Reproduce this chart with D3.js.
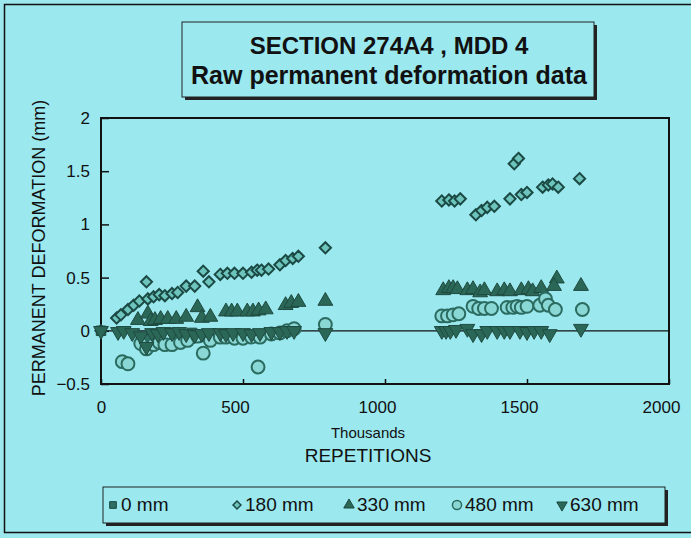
<!DOCTYPE html>
<html><head><meta charset="utf-8">
<script src="https://cdn.jsdelivr.net/npm/d3@7"></script>
<style>html,body{margin:0;padding:0;background:#9ce8ee;}svg{display:block;}</style>
</head><body>
<svg id="chart" width="691" height="538"></svg>
<script>
const titleLines = ["SECTION 274A4 , MDD 4", "Raw permanent deformation data"];
const xTicks = [0, 500, 1000, 1500, 2000];
const yTicks = [-0.5, 0, 0.5, 1, 1.5, 2];
const seriesNames = ["0 mm", "180 mm", "330 mm", "480 mm", "630 mm"];

const s0mm = [[0,0],[140,-0.1],[165,-0.08],[200,-0.05],[260,-0.04],[320,-0.02]];
const s180mm = [[0,0],[55,0.12],[70,0.15],[95,0.2],[115,0.24],[135,0.28],[160,0.46],[165,0.3],[185,0.32],[205,0.34],[225,0.33],[250,0.35],[270,0.36],[300,0.42],[330,0.42],[360,0.56],[380,0.46],[420,0.53],[445,0.54],[470,0.54],[500,0.54],[530,0.55],[550,0.57],[565,0.57],[590,0.58],[630,0.62],[650,0.66],[675,0.68],[695,0.7],[790,0.78],
  [1200,1.22],[1225,1.23],[1245,1.22],[1265,1.24],[1320,1.09],[1340,1.13],[1360,1.16],[1385,1.17],[1440,1.24],[1455,1.57],[1470,1.62],[1480,1.28],[1500,1.3],[1555,1.35],[1575,1.37],[1590,1.38],[1610,1.35],[1685,1.43]];
const s330mm = [[130,0.1],[165,0.16],[175,0.09],[190,0.1],[210,0.11],[235,0.11],[265,0.11],[300,0.13],[340,0.22],[355,0.12],[385,0.13],[440,0.18],[460,0.18],[480,0.18],[515,0.18],[535,0.18],[555,0.19],[580,0.2],[650,0.24],[670,0.26],[695,0.27],[790,0.28],
  [1205,0.38],[1225,0.4],[1240,0.4],[1255,0.39],[1290,0.38],[1310,0.39],[1335,0.36],[1350,0.38],[1395,0.37],[1420,0.38],[1440,0.37],[1480,0.38],[1505,0.39],[1520,0.37],[1550,0.4],[1605,0.49],[1595,0.42],[1690,0.42]];
const s480mm = [[75,-0.29],[95,-0.31],[140,-0.12],[160,-0.17],[185,-0.13],[205,-0.11],[225,-0.13],[250,-0.13],[280,-0.11],[305,-0.09],[340,-0.05],[360,-0.21],[385,-0.09],[420,-0.06],[440,-0.06],[470,-0.07],[500,-0.07],[530,-0.06],[553,-0.34],[560,-0.06],[600,-0.03],[630,-0.02],[655,0],[680,0.02],[790,0.06],
  [1200,0.14],[1220,0.14],[1240,0.15],[1260,0.16],[1310,0.23],[1330,0.21],[1350,0.21],[1375,0.21],[1430,0.22],[1450,0.22],[1465,0.23],[1480,0.22],[1500,0.23],[1545,0.24],[1565,0.3],[1575,0.24],[1600,0.2],[1695,0.2]];
const s630mm = [[0,0],[60,-0.01],[80,0],[110,-0.02],[140,-0.05],[160,-0.15],[180,-0.02],[200,-0.03],[220,-0.01],[250,-0.02],[275,-0.01],[300,-0.03],[330,-0.04],[355,-0.03],[380,-0.02],[420,-0.02],[440,-0.03],[465,-0.02],[500,-0.02],[530,-0.03],[560,-0.02],[600,-0.01],[630,-0.01],[655,0],[680,0],[790,-0.02],
  [1200,0],[1215,0],[1230,0],[1250,0.01],[1290,0.02],[1310,-0.03],[1340,-0.03],[1360,0],[1395,0],[1420,0],[1440,0],[1475,0],[1500,-0.01],[1525,0],[1550,0],[1580,-0.03],[1690,0.02]];

(function () {
const svg = d3.select("#chart");
const font = "Liberation Sans, Arial, Helvetica, sans-serif";
const pL = 101, pR = 669, pT = 118, pB = 384;
const x = d3.scaleLinear().domain([0, 2000]).range([pL, pR]);
const y = d3.scaleLinear().domain([-0.5, 2]).range([pB, pT]);

// outer frame
svg.append("rect").attr("x", 4.5).attr("y", 4.5).attr("width", 720).attr("height", 528)
  .attr("fill", "#9be8ef").attr("stroke", "#111").attr("stroke-width", 1.5);

// title box with shadow
const tb = {x: 182, y: 22, w: 412, h: 75};
svg.append("rect").attr("x", tb.x + 3).attr("y", tb.y + 3).attr("width", tb.w).attr("height", tb.h).attr("fill", "#222");
svg.append("rect").attr("x", tb.x).attr("y", tb.y).attr("width", tb.w).attr("height", tb.h)
  .attr("fill", "#9be8ef").attr("stroke", "#222").attr("stroke-width", 1);
svg.selectAll("text.title").data(titleLines).enter().append("text")
  .attr("class", "title").attr("x", tb.x + tb.w / 2 + 1).attr("y", (d, i) => 54 + i * 30)
  .attr("text-anchor", "middle").attr("font-family", font).attr("font-weight", "bold")
  .attr("font-size", (d, i) => i === 0 ? 24 : 25).attr("fill", "#111").text(d => d);

// plot frame
svg.append("rect").attr("x", pL).attr("y", pT).attr("width", pR - pL).attr("height", pB - pT)
  .attr("fill", "none").attr("stroke", "#111").attr("stroke-width", 2);

// axes (ticks inside)
const yAxis = d3.axisLeft(y).tickValues(yTicks).tickSize(-8).tickPadding(11).tickFormat(d3.format("~g"));
const gy = svg.append("g").attr("transform", `translate(${pL},0)`).call(yAxis);
const xAxis = d3.axisBottom(x).tickValues(xTicks).tickSize(-5).tickPadding(17).tickFormat(d3.format("d"));
const gx = svg.append("g").attr("transform", `translate(0,${pB})`).call(xAxis);
[gx, gy].forEach(g => {
  g.select(".domain").remove();
  g.selectAll(".tick line").attr("stroke", "#111").attr("stroke-width", 1.5);
  g.selectAll(".tick text").attr("font-family", font).attr("font-size", 17).attr("fill", "#111");
});
gx.selectAll(".tick text").attr("dx", d => d === 0 ? 0 : -8);

// zero line
svg.append("line").attr("x1", pL).attr("x2", pR).attr("y1", y(0)).attr("y2", y(0))
  .attr("stroke", "#111").attr("stroke-width", 1.3);

// axis titles
svg.append("text").attr("transform", `translate(45,248) rotate(-90)`).attr("text-anchor", "middle")
  .attr("font-family", font).attr("font-size", 18).attr("fill", "#111").text("PERMANENT DEFORMATION (mm)");
svg.append("text").attr("x", 368).attr("y", 438).attr("text-anchor", "middle")
  .attr("font-family", font).attr("font-size", 15).attr("fill", "#111").text("Thousands");
svg.append("text").attr("x", 368).attr("y", 462).attr("text-anchor", "middle")
  .attr("font-family", font).attr("font-size", 19).attr("fill", "#111").text("REPETITIONS");

// marker styles
const styles = [
  {type: d3.symbolSquare, size: 90, rot: 0, fill: "#2f6f62", stroke: "#1d4a42", sw: 1},
  {type: d3.symbolDiamond2, size: 80, rot: 0, fill: "#6cc4bd", stroke: "#1b4a44", sw: 2},
  {type: d3.symbolTriangle, size: 95, rot: 0, fill: "#2b6756", stroke: "#1e4a40", sw: 1},
  {type: d3.symbolCircle, size: 130, rot: 0, fill: "#8ad8d6", stroke: "#2b6b60", sw: 2},
  {type: d3.symbolTriangle, size: 95, rot: 180, fill: "#2b6756", stroke: "#1e4a40", sw: 1}
];
const series = [s0mm, s180mm, s330mm, s480mm, s630mm];
series.forEach((data, i) => {
  const st = styles[i];
  svg.append("g").selectAll("path").data(data).enter().append("path")
    .attr("d", d3.symbol().type(st.type).size(st.size))
    .attr("transform", d => `translate(${x(d[0])},${y(d[1])}) rotate(${st.rot})`)
    .attr("fill", st.fill).attr("stroke", st.stroke).attr("stroke-width", st.sw);
});

// legend box
const lb = {x: 103, y: 487, w: 562, h: 36};
svg.append("rect").attr("x", lb.x + 3).attr("y", lb.y + 3).attr("width", lb.w).attr("height", lb.h).attr("fill", "#222");
svg.append("rect").attr("x", lb.x).attr("y", lb.y).attr("width", lb.w).attr("height", lb.h)
  .attr("fill", "#9be8ef").attr("stroke", "#222").attr("stroke-width", 1);
const legendX = [113, 237, 349, 457, 562];
seriesNames.forEach((name, i) => {
  const st = styles[i];
  const g = svg.append("g").attr("transform", `translate(${legendX[i]},505)`);
  g.append("path").attr("d", d3.symbol().type(st.type).size(st.size * 0.5))
    .attr("transform", `rotate(${st.rot})`)
    .attr("fill", st.fill).attr("stroke", st.stroke).attr("stroke-width", Math.min(st.sw, 1.5));
  g.append("text").attr("x", 8).attr("y", 6).attr("font-family", font).attr("font-size", 19)
    .attr("fill", "#111").text(name);
});
})();
</script>
</body></html>
